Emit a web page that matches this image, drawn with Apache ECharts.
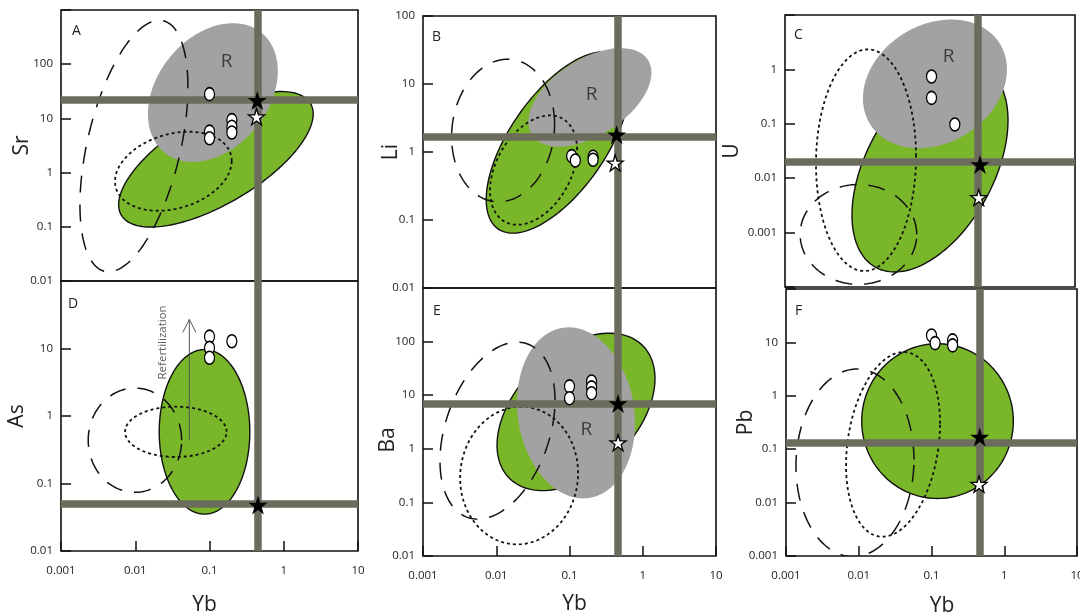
<!DOCTYPE html>
<html>
<head>
<meta charset="utf-8">
<script src="https://cdn.jsdelivr.net/npm/echarts@6/dist/echarts.min.js"></script>
<style>
  html, body { margin: 0; padding: 0; background: #fff; }
  #chart { width: 1080px; height: 612px; }
</style>
</head>
<body>
<div id="chart"></div>
<script>
// Six log-log panels of trace element vs Yb: A Sr, B Li, C U, D As, E Ba, F Pb.
const panelLetters = ['A', 'B', 'C', 'D', 'E', 'F'];
const elementNames = ['Sr', 'Li', 'U', 'As', 'Ba', 'Pb'];
const ybRange = [0.001, 10];
const yRanges = [[0.01, 1000], [0.01, 100], [0.0001, 10], [0.01, 100], [0.01, 1000], [0.001, 100]];
const yLabelValues = [
  [0.01, 0.1, 1, 10, 100],
  [0.01, 0.1, 1, 10, 100],
  [0.001, 0.01, 0.1, 1],
  [0.01, 0.1, 1, 10],
  [0.01, 0.1, 1, 10, 100],
  [0.001, 0.01, 0.1, 1, 10]
];
const ybLabelValues = [0.001, 0.01, 0.1, 1, 10];

// Compositional fields, one entry per panel:
// [Yb centre, element centre, Yb half-span (decades), element half-span (decades), phase (deg)]
// phase 90 = upright ellipse, lower = tilted up-right, higher = tilted down-right
const greenFields = [
  [0.122, 1.76, 1.31, 1.25, 48],
  [0.0697, 1.38, 0.98, 1.333, 51],
  [0.100, 0.0156, 1.076, 1.917, 63],
  [0.0857, 0.583, 0.61, 1.219, 90],
  [0.1227, 4.88, 1.078, 1.468, 65],
  [0.121, 0.336, 1.042, 1.449, 90]
];
const rFields = [
  [0.111, 30, 0.875, 1.28, 72],
  [0.19, 6.37, 0.84, 0.723, 60],
  [0.117, 0.542, 0.993, 1.183, 77],
  null,
  [0.1227, 4.68, 0.805, 1.596, 97],
  null
];
const dashedFields = [
  [0.0096, 3.09, 0.727, 2.32, 62],
  [0.0124, 2.07, 0.703, 1.048, 85],
  [0.0103, 0.000927, 0.804, 0.917, 90],
  [0.0099, 0.438, 0.629, 0.772, 90],
  [0.0104, 2.18, 0.785, 1.651, 70],
  [0.00887, 0.0555, 0.811, 1.757, 88]
];
const dottedFields = [
  [0.0326, 1.06, 0.786, 0.729, 75],
  [0.0323, 0.542, 0.594, 0.804, 68],
  [0.0131, 0.0214, 0.69, 2.037, 88],
  [0.0352, 0.583, 0.684, 0.373, 90],
  [0.0205, 0.317, 0.805, 1.284, 88],
  [0.0296, 0.123, 0.646, 1.729, 77]
];

// Samples (open circles), [Yb, element]
const samplesA = [[0.1, 28], [0.1, 5.7], [0.1, 4.3], [0.2, 9.3], [0.2, 7.0], [0.2, 5.5]];
const samplesB = [[0.107, 0.87], [0.12, 0.75], [0.21, 0.85], [0.21, 0.77]];
const samplesC = [[0.105, 0.74], [0.105, 0.30], [0.22, 0.097]];
const samplesD = [[0.1, 15], [0.1, 10.2], [0.1, 7.3], [0.2, 12.8]];
const samplesE = [[0.1, 14.6], [0.1, 8.8], [0.2, 18], [0.2, 14], [0.2, 10.9]];
const samplesF = [[0.1, 13.5], [0.112, 9.7], [0.195, 10.9], [0.195, 8.8]];
const samples = [samplesA, samplesB, samplesC, samplesD, samplesE, samplesF];

// Reference compositions (stars), [Yb, element]
const blackStars = [[0.44, 21.5], [0.44, 1.8], [0.49, 0.0178], [0.45, 0.048], [0.46, 7.0], [0.46, 0.17]];
const whiteStars = [[0.43, 10.7], [0.42, 0.69], [0.47, 0.0044], null, [0.46, 1.3], [0.45, 0.022]];

// Reference lines
const ybLines = [0.45, 0.46, 0.46, 0.45, 0.46, 0.46];
const elementLines = [22, 1.7, 0.017, 0.048, 6.8, 0.133];

// "R" field labels
const rLabels = [[0.17, 111], [0.2, 7.06], [0.18, 1.73], null, [0.17, 2.28], null];

// Refertilization arrow in panel D
const refertArrow = [[0.0535, 0.44], [0.0535, 27]];
const refertLabel = [0.0237, 12.3];

const FONT = '"Open Sans", "Noto Sans", sans-serif';
const GREEN = '#7ab62a';
const GRAY = '#a2a2a2';
const LINE = '#6c6c5d';
const STAR = 'path://M50,2 L61.2,36.5 L97.6,36.5 L68.2,57.9 L79.4,92.5 L50,71.1 L20.6,92.5 L31.8,57.9 L2.4,36.5 L38.8,36.5 Z';
const OVAL = 'path://M10,0 A10,10 0 1,1 10,20 A10,10 0 1,1 10,0 Z';

const grids = [
  { left: 61, top: 10, width: 297, height: 271 },
  { left: 423, top: 16, width: 293, height: 272 },
  { left: 785, top: 15, width: 290, height: 272 },
  { left: 61, top: 281, width: 297, height: 270 },
  { left: 423, top: 288, width: 293, height: 268 },
  { left: 786, top: 289, width: 291, height: 267 }
];
const nameGaps = [28, 21, 42, 33, 24, 29];
const namePads = [0, 0, 0, 0, 36, 0];
const ybNameGaps = [0, 0, 0, 44, 38, 40];
const ybNamePads = [null, null, null, [0, 10, 0, 0], [0, 0, 0, 10], [0, 0, 0, 21]];
const letterPos = [[72, 24], [432, 30], [794, 28], [68, 297], [433, 304], [795, 304]];

function tickText(v, shown) {
  const r = Number(v.toPrecision(1));
  return shown.some(s => Math.abs(s - r) < s * 1e-6) ? String(r) : '';
}

function fieldSeries(i, field, kind) {
  const styles = {
    green: { fill: GREEN, stroke: '#111', lineWidth: 1.4 },
    gray: { fill: GRAY, stroke: null, lineWidth: 0 },
    dashed: { fill: 'none', stroke: '#111', lineWidth: 1.5, lineDash: [17, 12] },
    dotted: { fill: 'none', stroke: '#111', lineWidth: 1.8, lineDash: [3, 3] }
  };
  const zs = { green: 2, gray: 3, dashed: 4, dotted: 4 };
  return {
    type: 'custom',
    xAxisIndex: i, yAxisIndex: i,
    clip: true, silent: true, z: zs[kind],
    dimensions: ['yb', 'el', 'hx', 'hy', 'ph'],
    encode: { x: 0, y: 1 },
    data: [field],
    renderItem: function (params, api) {
      const lx = Math.log10(api.value(0)), ly = Math.log10(api.value(1));
      const hx = api.value(2), hy = api.value(3), ph = api.value(4) * Math.PI / 180;
      const pts = [];
      const n = 160;
      for (let k = 0; k < n; k++) {
        const t = 2 * Math.PI * k / n;
        pts.push(api.coord([Math.pow(10, lx + hx * Math.cos(t)), Math.pow(10, ly + hy * Math.cos(t - ph))]));
      }
      return { type: 'polygon', shape: { points: pts }, style: styles[kind] };
    }
  };
}

const xAxes = [], yAxes = [], series = [], graphics = [];
for (let i = 0; i < 6; i++) {
  const bottomRow = i >= 3;
  xAxes.push({
    gridIndex: i, type: 'log', logBase: 10, min: ybRange[0], max: ybRange[1],
    axisLine: { show: false }, splitLine: { show: false },
    axisTick: { show: bottomRow, inside: true, length: 10, lineStyle: { color: '#111', width: 1.5 } },
    axisLabel: {
      show: bottomRow, margin: 14, fontSize: 11.5, color: '#222', fontFamily: FONT,
      formatter: v => tickText(v, ybLabelValues)
    },
    name: bottomRow ? 'Yb' : '', nameLocation: 'middle', nameGap: ybNameGaps[i], nameMoveOverlap: false,
    nameTextStyle: { fontSize: 21, color: '#222', fontFamily: FONT, padding: ybNamePads[i] || 0 }
  });
  yAxes.push({
    gridIndex: i, type: 'log', logBase: 10, min: yRanges[i][0], max: yRanges[i][1],
    axisLine: { show: false }, splitLine: { show: false },
    axisTick: { show: true, inside: true, length: 10, lineStyle: { color: '#111', width: 1.5 } },
    axisLabel: {
      margin: 8, fontSize: 11.5, color: '#222', fontFamily: FONT,
      formatter: v => tickText(v, yLabelValues[i])
    },
    name: elementNames[i], nameLocation: 'middle', nameGap: nameGaps[i], nameMoveOverlap: false,
    nameTextStyle: { fontSize: 21, color: '#222', fontFamily: FONT, padding: [0, namePads[i], 0, 0] }
  });

  series.push(fieldSeries(i, greenFields[i], 'green'));
  if (rFields[i]) series.push(fieldSeries(i, rFields[i], 'gray'));
  series.push(fieldSeries(i, dashedFields[i], 'dashed'));
  series.push(fieldSeries(i, dottedFields[i], 'dotted'));

  // reference cross lines
  series.push({
    type: 'line', xAxisIndex: i, yAxisIndex: i, data: [], silent: true,
    markLine: {
      silent: true, symbol: ['none', 'none'], label: { show: false },
      lineStyle: { color: LINE, width: 7.5, type: 'solid' },
      emphasis: { disabled: true },
      data: [{ xAxis: ybLines[i] }, { yAxis: elementLines[i] }]
    }
  });

  series.push({
    type: 'scatter', xAxisIndex: i, yAxisIndex: i, z: 6, silent: true,
    symbol: OVAL, symbolSize: [10, 13],
    itemStyle: { color: '#fff', borderColor: '#000', borderWidth: 1.4, opacity: 1 },
    data: samples[i]
  });
  series.push({
    type: 'scatter', xAxisIndex: i, yAxisIndex: i, z: 7, silent: true,
    symbol: STAR, symbolSize: 19,
    itemStyle: { color: '#000', opacity: 1 },
    data: [blackStars[i]]
  });
  if (whiteStars[i]) {
    series.push({
      type: 'scatter', xAxisIndex: i, yAxisIndex: i, z: 7, silent: true,
      symbol: STAR, symbolSize: 16,
      itemStyle: { color: '#fff', borderColor: '#000', borderWidth: 1.3, opacity: 1 },
      data: [whiteStars[i]]
    });
  }
  if (rLabels[i]) {
    series.push({
      type: 'scatter', xAxisIndex: i, yAxisIndex: i, z: 7, silent: true,
      symbol: 'circle', symbolSize: 1, itemStyle: { color: 'rgba(0,0,0,0)' },
      label: { show: true, position: 'inside', formatter: 'R', fontSize: 19, color: '#222', fontFamily: FONT },
      data: [rLabels[i]]
    });
  }

  graphics.push({
    type: 'text', left: letterPos[i][0], top: letterPos[i][1], silent: true,
    style: { text: panelLetters[i], fontSize: 14, fontFamily: FONT, fill: '#222' }
  });
}

// Refertilization arrow and caption (panel D)
series.push({
  type: 'line', xAxisIndex: 3, yAxisIndex: 3, z: 5, silent: true,
  lineStyle: { color: '#555', width: 1 },
  symbol: 'none',
  data: [
    { value: refertArrow[0] },
    {
      value: refertArrow[1], symbol: 'path://M0,10 L5,0 L10,10', symbolSize: [13, 13],
      symbolOffset: [0, '50%'], itemStyle: { color: 'none', borderColor: '#555', borderWidth: 1 }
    }
  ]
});
series.push({
  type: 'scatter', xAxisIndex: 3, yAxisIndex: 3, z: 7, silent: true,
  symbol: 'circle', symbolSize: 1, itemStyle: { color: 'rgba(0,0,0,0)' },
  label: { show: true, position: 'inside', formatter: 'Refertilization', rotate: 90, fontSize: 11.5, color: '#333', fontFamily: FONT },
  data: [refertLabel]
});

const chart = echarts.init(document.getElementById('chart'), null, { renderer: 'canvas' });
chart.setOption({
  animation: false,
  backgroundColor: '#fff',
  grid: grids.map(g => Object.assign({
    show: true, borderColor: '#111', borderWidth: 1.6, backgroundColor: 'transparent',
    containLabel: false, outerBoundsMode: 'none'
  }, g)),
  xAxis: xAxes,
  yAxis: yAxes,
  series: series,
  graphic: graphics
});
</script>
</body>
</html>
